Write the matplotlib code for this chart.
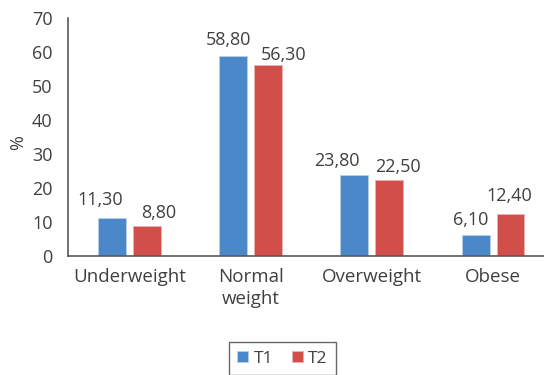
import matplotlib
matplotlib.use("Agg")
import matplotlib.pyplot as plt
import numpy as np

categories = ["Underweight", "Normal\nweight", "Overweight", "Obese"]
t1_values = [11.30, 58.80, 23.80, 6.10]
t2_values = [8.80, 56.30, 22.50, 12.40]
series_names = ["T1", "T2"]
y_ticks = [0, 10, 20, 30, 40, 50, 60, 70]

# label nudges (pixels) relative to the top centre of each bar: (dx, gap above bar)
t1_label_nudge = [(-12, 13), (-5, 11), (-18, 9), (-5, 10)]
t2_label_nudge = [(12, 8), (16, 5), (9, 7), (-1, 13)]

plt.rcParams["font.family"] = ["Open Sans", "DejaVu Sans"]
text_color = "#404040"
fs = 13

W, H = 544, 375
fig = plt.figure(figsize=(W / 100, H / 100), dpi=100)
ax = fig.add_axes([68 / W, (H - 256) / H, (W - 68) / W, 238 / H])

x = np.arange(len(categories))
bw = 0.23
off = 0.144
blue = "#4A88C9"
red = "#D24E4A"
b1 = ax.bar(x - off, t1_values, bw, color=blue, edgecolor="#b8cfe8", linewidth=0.6, label=series_names[0])
b2 = ax.bar(x + off, t2_values, bw, color=red, edgecolor="#eab2b0", linewidth=0.6, label=series_names[1])

px2pt = 72 / 100
for bars, nudges in ((b1, t1_label_nudge), (b2, t2_label_nudge)):
    for rect, (dx, dy) in zip(bars, nudges):
        v = rect.get_height()
        ax.annotate(f"{v:.2f}".replace(".", ","),
                    (rect.get_x() + rect.get_width() / 2, v),
                    xytext=(dx * px2pt, dy * px2pt), textcoords="offset points",
                    ha="center", va="baseline", fontsize=fs, color=text_color,
                    annotation_clip=False)

ax.set_xlim(-0.507, 3.42)
ax.set_ylim(0, 70)
ax.set_yticks(y_ticks)
ax.set_xticks(x)
ax.set_xticklabels(categories, fontsize=13.5, color=text_color, linespacing=1.25)
ax.tick_params(axis="y", length=0, pad=11, labelsize=fs, labelcolor=text_color)
ax.tick_params(axis="x", length=0, pad=9)
for s in ("top", "right"):
    ax.spines[s].set_visible(False)
for s in ("left", "bottom"):
    ax.spines[s].set_color("#595959")
    ax.spines[s].set_linewidth(1.2)

fig.text(18 / W, 1 - 143 / H, "%", rotation=90, ha="center", va="center",
         fontsize=fs, color=text_color)

leg = fig.legend(handles=[b1, b2], labels=series_names, loc="upper center",
                 bbox_to_anchor=(282.5 / W, 1 - 342 / H), ncol=2, fontsize=12.5,
                 frameon=True, fancybox=False, edgecolor="#404040",
                 handlelength=0.62, handleheight=0.62, handletextpad=0.3,
                 columnspacing=1.1, borderpad=0.5, borderaxespad=0)
leg.get_frame().set_linewidth(1.0)
for t in leg.get_texts():
    t.set_color(text_color)

fig.savefig("out.png", dpi=100)
